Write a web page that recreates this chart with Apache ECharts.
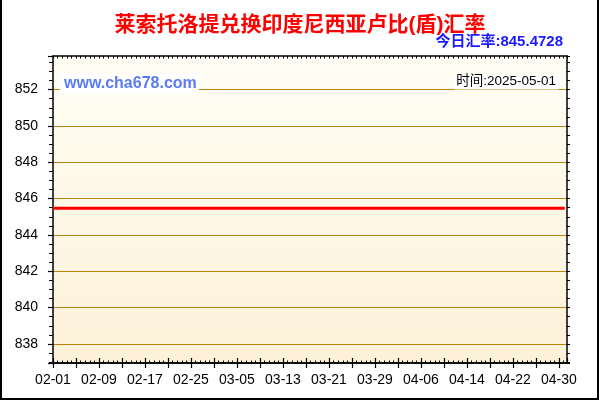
<!DOCTYPE html>
<html>
<head>
<meta charset="utf-8">
<script src="https://cdn.jsdelivr.net/npm/echarts@6/dist/echarts.min.js"></script>
<style>
html,body{margin:0;padding:0;background:#fff;}
#wrap{position:relative;width:600px;height:400px;overflow:hidden;}
#chart{width:600px;height:400px;}
#frame{position:absolute;left:0;top:-5px;width:599px;height:405px;box-sizing:border-box;border:2px solid #000;pointer-events:none;}
</style>
</head>
<body>
<div id="wrap"><div id="chart"></div><div id="frame"></div></div>
<script>
const titleText = '莱索托洛提兑换印度尼西亚卢比(盾)汇率';
const rateText = '今日汇率:845.4728';
const siteText = 'www.cha678.com';
const timeText = '时间:2025-05-01';

const dates = [
 '02-01','02-02','02-03','02-04','02-05','02-06','02-07','02-08','02-09','02-10',
 '02-11','02-12','02-13','02-14','02-15','02-16','02-17','02-18','02-19','02-20',
 '02-21','02-22','02-23','02-24','02-25','02-26','02-27','02-28','03-01','03-02',
 '03-03','03-04','03-05','03-06','03-07','03-08','03-09','03-10','03-11','03-12',
 '03-13','03-14','03-15','03-16','03-17','03-18','03-19','03-20','03-21','03-22',
 '03-23','03-24','03-25','03-26','03-27','03-28','03-29','03-30','03-31','04-01',
 '04-02','04-03','04-04','04-05','04-06','04-07','04-08','04-09','04-10','04-11',
 '04-12','04-13','04-14','04-15','04-16','04-17','04-18','04-19','04-20','04-21',
 '04-22','04-23','04-24','04-25','04-26','04-27','04-28','04-29','04-30','05-01'
];
const rates = [
 845.4728,845.4728,845.4728,845.4728,845.4728,845.4728,845.4728,845.4728,845.4728,845.4728,
 845.4728,845.4728,845.4728,845.4728,845.4728,845.4728,845.4728,845.4728,845.4728,845.4728,
 845.4728,845.4728,845.4728,845.4728,845.4728,845.4728,845.4728,845.4728,845.4728,845.4728,
 845.4728,845.4728,845.4728,845.4728,845.4728,845.4728,845.4728,845.4728,845.4728,845.4728,
 845.4728,845.4728,845.4728,845.4728,845.4728,845.4728,845.4728,845.4728,845.4728,845.4728,
 845.4728,845.4728,845.4728,845.4728,845.4728,845.4728,845.4728,845.4728,845.4728,845.4728,
 845.4728,845.4728,845.4728,845.4728,845.4728,845.4728,845.4728,845.4728,845.4728,845.4728,
 845.4728,845.4728,845.4728,845.4728,845.4728,845.4728,845.4728,845.4728,845.4728,845.4728,
 845.4728,845.4728,845.4728,845.4728,845.4728,845.4728,845.4728,845.4728,845.4728,845.4728
];
const yTicks = [838,840,842,844,846,848,850,852];
const labelEvery = 8;

const xMin = 0, xMax = 89.4, xInterval = 4;
const yMin = 836.95, yMax = 853.85;

const seriesData = dates.map((d, i) => [i, rates[i]]);
const latin = '"Liberation Sans", Arial, "Noto Sans CJK SC", sans-serif';
const cjk = '"Liberation Sans", "Noto Sans CJK SC", sans-serif';

const xLabelFmt = v => {
  const i = Math.round(v);
  if (Math.abs(v - i) > 1e-6) return '';
  return (i % labelEvery === 0 && dates[i]) ? dates[i] : '';
};
const yLabelFmt = v => {
  const r = Math.round(v);
  return (Math.abs(v - r) < 1e-6 && yTicks.indexOf(r) >= 0) ? String(r) : '';
};

const baseX = {type:'value', min:xMin, max:xMax, interval:xInterval, gridIndex:0};
const baseY = {type:'value', min:yMin, max:yMax, splitNumber:8, gridIndex:0};
const blackLine = {show:true, onZero:false, lineStyle:{color:'#000', width:1.5}};

const chart = echarts.init(document.getElementById('chart'), null, {renderer:'canvas'});
chart.setOption({
  animation:false,
  backgroundColor:'#fff',
  title:{
    text:titleText, left:'center', top:10,
    textStyle:{color:'#ff0000', fontSize:21, fontWeight:'bold', fontFamily:cjk}
  },
  grid:{
    left:53, right:33, top:56, bottom:37, show:true, borderWidth:0,
    backgroundColor:{type:'linear', x:0, y:0, x2:0, y2:1,
      colorStops:[{offset:0, color:'#fffef5'},{offset:1, color:'#fdf1d8'}]}
  },
  xAxis:[
    Object.assign({}, baseX, {
      position:'bottom', axisLine:blackLine,
      axisTick:{show:true, inside:false, length:5, lineStyle:{color:'#000', width:1.2}},
      minorTick:{show:false},
      axisLabel:{show:true, formatter:xLabelFmt, color:'#000', fontSize:14, margin:10, fontFamily:latin,
        showMinLabel:true, showMaxLabel:false},
      splitLine:{show:false}
    }),
    Object.assign({}, baseX, {
      position:'bottom', axisLine:blackLine,
      axisTick:{show:true, inside:true, length:5, lineStyle:{color:'#000', width:1.2}},
      minorTick:{show:true, splitNumber:5, length:2.5, lineStyle:{color:'#000', width:1}},
      axisLabel:{show:false}, splitLine:{show:false}
    }),
    Object.assign({}, baseX, {
      position:'top', axisLine:blackLine,
      axisTick:{show:true, inside:true, length:2.5, lineStyle:{color:'#000', width:1}},
      minorTick:{show:true, splitNumber:5, length:2.5, lineStyle:{color:'#000', width:1}},
      axisLabel:{show:false}, splitLine:{show:false}
    })
  ],
  yAxis:[
    Object.assign({}, baseY, {
      position:'left', axisLine:blackLine,
      axisTick:{show:true, inside:false, length:5, lineStyle:{color:'#000', width:1.2}},
      minorTick:{show:true, splitNumber:4, length:4, lineStyle:{color:'#000', width:1}},
      axisLabel:{show:true, formatter:yLabelFmt, color:'#000', fontSize:14, margin:15, fontFamily:latin,
        showMinLabel:false, showMaxLabel:false},
      splitLine:{show:true, showMinLine:false, showMaxLine:false, lineStyle:{color:'#b8860b', width:1}}
    }),
    Object.assign({}, baseY, {
      position:'right', axisLine:blackLine,
      axisTick:{show:true, inside:false, length:3, lineStyle:{color:'#000', width:1}},
      minorTick:{show:true, splitNumber:4, length:3, lineStyle:{color:'#000', width:1}},
      axisLabel:{show:false}, splitLine:{show:false}
    })
  ],
  graphic:[
    {type:'text', right:37, top:34, z:10,
      style:{text:rateText, fill:'#1a1aff', font:'bold 15px ' + cjk}},
    {type:'text', left:60, top:74, z:10,
      style:{text:siteText, fill:'#5b7bf5', font:'bold 16px ' + latin,
        backgroundColor:'#fff', padding:[2,2,2,4]}},
    {type:'text', right:42, top:74, z:10,
      style:{text:timeText, fill:'#000', font:'13.5px ' + cjk,
        backgroundColor:'#fff', padding:[1,2,1,2]}}
  ],
  series:[{
    type:'line', data:seriesData, xAxisIndex:0, yAxisIndex:0,
    showSymbol:false, symbol:'none',
    lineStyle:{color:'#ff0000', width:3}, z:5
  }]
});
</script>
</body>
</html>
